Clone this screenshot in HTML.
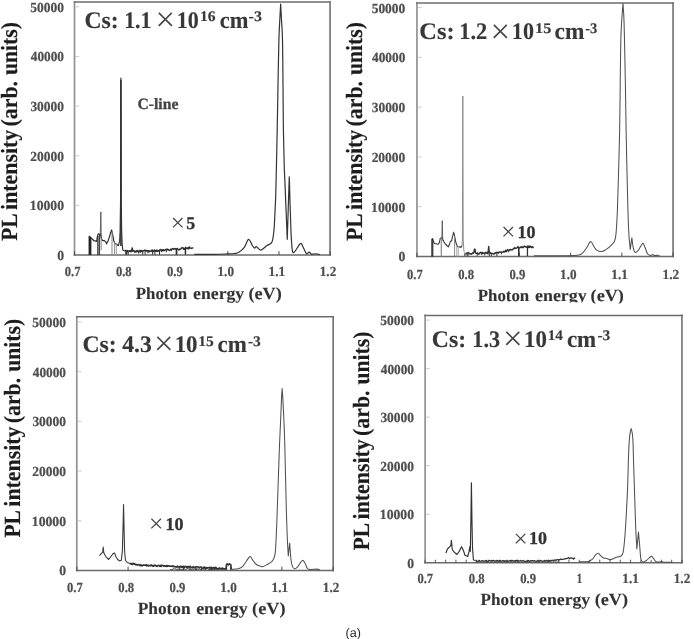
<!DOCTYPE html>
<html><head><meta charset="utf-8"><title>PL spectra</title>
<style>html,body{margin:0;padding:0;background:#fff}svg{display:block}</style></head>
<body><svg width="694" height="639" viewBox="0 0 694 639" text-rendering="geometricPrecision">
<defs><filter id="soft" x="0" y="0" width="694" height="639" filterUnits="userSpaceOnUse"><feGaussianBlur stdDeviation="0.45"/></filter></defs>
<rect width="694" height="639" fill="#fff"/>
<g filter="url(#soft)">
<line x1="74.50" y1="2.10" x2="74.50" y2="254.95" stroke="#929292" stroke-width="1.7" stroke-linecap="square"/>
<line x1="330.05" y1="2.10" x2="330.05" y2="254.95" stroke="#787878" stroke-width="1.7" stroke-linecap="square"/>
<line x1="74.50" y1="2.10" x2="330.05" y2="2.10" stroke="#6c6c6c" stroke-width="1.5" stroke-linecap="square"/>
<line x1="74.50" y1="254.95" x2="330.05" y2="254.95" stroke="#6a6a6a" stroke-width="1.6" stroke-linecap="square"/>
<line x1="75.30" y1="205.32" x2="79.10" y2="205.32" stroke="#c4c4c4" stroke-width="0.9"/>
<line x1="75.30" y1="155.69" x2="79.10" y2="155.69" stroke="#c4c4c4" stroke-width="0.9"/>
<line x1="75.30" y1="106.06" x2="79.10" y2="106.06" stroke="#c4c4c4" stroke-width="0.9"/>
<line x1="75.30" y1="56.43" x2="79.10" y2="56.43" stroke="#c4c4c4" stroke-width="0.9"/>
<line x1="75.30" y1="6.80" x2="79.10" y2="6.80" stroke="#c4c4c4" stroke-width="0.9"/>
<line x1="74.50" y1="254.95" x2="74.50" y2="251.15" stroke="#4a4a4a" stroke-width="1"/>
<line x1="125.61" y1="254.95" x2="125.61" y2="251.15" stroke="#4a4a4a" stroke-width="1"/>
<line x1="176.72" y1="254.95" x2="176.72" y2="251.15" stroke="#4a4a4a" stroke-width="1"/>
<line x1="227.83" y1="254.95" x2="227.83" y2="251.15" stroke="#4a4a4a" stroke-width="1"/>
<line x1="278.94" y1="254.95" x2="278.94" y2="251.15" stroke="#4a4a4a" stroke-width="1"/>
<line x1="330.05" y1="254.95" x2="330.05" y2="251.15" stroke="#4a4a4a" stroke-width="1"/>
<text font-family='"Liberation Serif", serif' font-weight="bold" fill="#4e4e4e" stroke="#4e4e4e" stroke-width="0.22"><tspan x="57.18" y="259.85" font-size="13.9" textLength="6.84" lengthAdjust="spacingAndGlyphs" >0</tspan><tspan x="29.80" y="210.22" font-size="13.9" textLength="34.22" lengthAdjust="spacingAndGlyphs" >10000</tspan><tspan x="30.33" y="160.59" font-size="13.9" textLength="33.68" lengthAdjust="spacingAndGlyphs" >20000</tspan><tspan x="30.39" y="110.96" font-size="13.9" textLength="33.62" lengthAdjust="spacingAndGlyphs" >30000</tspan><tspan x="30.72" y="61.33" font-size="13.9" textLength="33.29" lengthAdjust="spacingAndGlyphs" >40000</tspan><tspan x="30.36" y="11.70" font-size="13.9" textLength="33.65" lengthAdjust="spacingAndGlyphs" >50000</tspan></text>
<text font-family='"Liberation Serif", serif' font-weight="bold" fill="#4e4e4e" stroke="#4e4e4e" stroke-width="0.22"><tspan x="64.77" y="275.90" font-size="13.9" textLength="15.68" lengthAdjust="spacingAndGlyphs" >0.7</tspan><tspan x="115.88" y="275.90" font-size="13.9" textLength="15.80" lengthAdjust="spacingAndGlyphs" >0.8</tspan><tspan x="166.99" y="275.90" font-size="13.9" textLength="15.84" lengthAdjust="spacingAndGlyphs" >0.9</tspan><tspan x="217.53" y="275.90" font-size="13.9" textLength="16.46" lengthAdjust="spacingAndGlyphs" >1.0</tspan><tspan x="268.62" y="275.90" font-size="13.9" textLength="16.66" lengthAdjust="spacingAndGlyphs" >1.1</tspan><tspan x="319.74" y="275.90" font-size="13.9" textLength="16.53" lengthAdjust="spacingAndGlyphs" >1.2</tspan></text>
<text font-family='"Liberation Serif", serif' font-weight="bold" fill="#383838" stroke="#383838" stroke-width="0.15"><tspan x="84.44" y="27.60" font-size="23.8" textLength="34.28" lengthAdjust="spacingAndGlyphs" >Cs:</tspan><tspan x="124.15" y="27.60" font-size="23.8" textLength="27.28" lengthAdjust="spacingAndGlyphs" >1.1</tspan><tspan x="154.08" y="28.03" font-family='"IPAGothic", "Noto Sans CJK JP", sans-serif' font-weight="normal" stroke="none" fill="#454545" font-size="22.61">×</tspan><tspan x="176.84" y="27.60" font-size="23.8" textLength="22.00" lengthAdjust="spacingAndGlyphs" >10</tspan><tspan x="200.05" y="21.30" font-size="14.6" textLength="15.61" lengthAdjust="spacingAndGlyphs" >16</tspan><tspan x="219.73" y="27.60" font-size="23.8" textLength="28.65" lengthAdjust="spacingAndGlyphs" >cm</tspan><tspan x="248.61" y="21.30" font-size="14.6" textLength="13.33" lengthAdjust="spacingAndGlyphs" >-3</tspan></text>
<text x="137.40" y="109.00" font-family='"Liberation Serif", serif' font-size="15.7" font-weight="bold" fill="#444" stroke="#444" stroke-width="0.3" text-anchor="start" >C-line</text>
<text x="172.80" y="229.30" font-family='"Liberation Serif", serif' font-size="18" font-weight="bold" fill="#333" stroke="#333" stroke-width="0.3" text-anchor="start" ><tspan x="169.50" y="229.37" font-family='"IPAGothic", "Noto Sans CJK JP", sans-serif' font-weight="normal" stroke="none" fill="#454545" font-size="16.52">×</tspan><tspan x="186.30" y="229.30">5</tspan></text>
<text transform="translate(16.80 0) rotate(-90)" font-family='"Liberation Serif", serif' font-size="23.2" font-weight="bold" fill="#1c1c1c" stroke="#1c1c1c" stroke-width="0.15"><tspan x="-240.77" y="0" textLength="27.37" lengthAdjust="spacingAndGlyphs">PL</tspan><tspan x="-209.88" y="0" textLength="80.09" lengthAdjust="spacingAndGlyphs">intensity</tspan><tspan x="-126.56" y="0" textLength="45.63" lengthAdjust="spacingAndGlyphs">(arb.</tspan><tspan x="-75.03" y="0" textLength="52.98" lengthAdjust="spacingAndGlyphs">units)</tspan></text>
<text font-family='"Liberation Serif", serif' font-size="17.0" font-weight="bold" fill="#333" stroke="#333" stroke-width="0.1"><tspan x="135.71" y="298.60" textLength="51.54" lengthAdjust="spacingAndGlyphs">Photon</tspan><tspan x="193.10" y="298.60" textLength="51.08" lengthAdjust="spacingAndGlyphs">energy</tspan><tspan x="248.50" y="298.60" textLength="33.19" lengthAdjust="spacingAndGlyphs">(eV)</tspan></text>
<path d="M89.01 236.01 L89.62 236.49 L90.23 237.18 L90.85 238.20 L91.46 238.15 L92.07 238.75 L92.80 239.49 L93.53 240.32 L94.27 240.94 L95.36 240.80 L96.46 241.48 L96.64 240.59 L96.82 239.83 L97.00 239.13 L97.19 237.31 L97.37 236.66 L97.55 236.01 L97.93 234.38 L98.32 233.82 L99.74 234.36 L100.40 234.04 L100.60 235.27 L100.79 235.95 L100.99 235.94 L101.19 237.99 L101.39 238.20 L101.75 239.53 L102.12 239.86 L102.48 240.39 L103.30 240.54 L104.12 240.39 L105.22 241.48 L105.66 241.84 L106.10 242.46 L106.53 243.89 L107.01 243.13 L107.48 241.71 L107.96 241.48 L108.23 240.26 L108.51 239.51 L108.78 238.41 L109.05 238.20 L109.29 237.29 L109.52 236.40 L109.76 236.06 L109.99 234.78 L110.23 234.08 L110.46 233.03 L110.70 232.17 L111.13 231.29 L111.57 229.98 L111.82 230.89 L112.07 231.61 L112.31 233.50 L112.56 233.82 L112.70 235.28 L112.83 235.90 L112.97 236.55 L113.11 236.86 L113.24 237.57 L113.38 238.47 L113.52 239.01 L113.65 240.39 L114.01 241.56 L114.37 241.90 L114.72 243.30 L115.08 243.68 L115.90 243.80 L116.72 244.22 L117.54 245.37 L118.36 245.32 L118.67 244.95 L118.97 243.03 L119.27 242.48 L119.57 242.03 L119.61 241.76 L119.65 240.39 L119.70 240.25 L119.74 238.70 L119.78 237.47 L119.82 237.40 L119.86 236.79 L119.91 235.33 L119.95 234.29 L119.99 233.81 L120.03 233.83 L120.07 232.76 L120.12 231.63 L120.60 200.00 L120.90 78.00 L121.20 200.00 L121.65 231.63 L122.20 244.77 L122.86 250.25 L124.39 250.80" fill="none" stroke="#333" stroke-width="1.2" stroke-linejoin="round" stroke-linecap="butt" />
<line x1="89.34" y1="254.95" x2="89.34" y2="236.23" stroke="#222" stroke-width="1.5"/>
<line x1="90.65" y1="254.95" x2="90.65" y2="237.32" stroke="#222" stroke-width="1.5"/>
<line x1="97.88" y1="254.95" x2="97.88" y2="236.01" stroke="#333" stroke-width="1.3"/>
<line x1="99.41" y1="254.95" x2="99.41" y2="234.36" stroke="#444" stroke-width="1.3"/>
<line x1="101.17" y1="250.25" x2="101.17" y2="238.20" stroke="#888" stroke-width="1.0"/>
<line x1="112.01" y1="254.95" x2="112.01" y2="231.63" stroke="#888" stroke-width="1.0"/>
<line x1="114.53" y1="254.95" x2="114.53" y2="242.58" stroke="#999" stroke-width="1.0"/>
<line x1="116.28" y1="254.95" x2="116.28" y2="244.22" stroke="#999" stroke-width="1.0"/>
<line x1="120.90" y1="80.00" x2="120.90" y2="246.00" stroke="#333" stroke-width="1.6"/>
<path d="M100.29 233.82 L100.84 211.91 L101.28 238.20" fill="none" stroke="#555" stroke-width="0.9" stroke-linejoin="round" stroke-linecap="butt" />
<path d="M124.39 250.54 L125.04 250.79 L125.69 250.50 L126.34 250.42 L126.99 251.89 L127.64 250.65 L128.29 251.41 L128.94 251.18 L129.59 250.67 L130.24 251.75 L130.89 250.54 L131.54 251.56 L132.19 247.90 L132.84 251.10 L133.49 250.68 L134.14 250.79 L134.79 252.18 L135.44 251.84 L136.09 250.83 L136.74 251.98 L137.39 250.62 L138.04 250.98 L138.69 251.89 L139.34 251.45 L139.99 250.35 L140.64 252.12 L141.29 250.55 L141.94 250.62 L142.59 251.64 L143.24 250.73 L143.89 250.65 L144.54 250.18 L145.19 250.20 L145.84 251.16 L146.49 250.46 L147.14 251.16 L147.79 250.68 L148.44 250.82 L149.09 251.81 L149.74 250.83 L150.39 250.99 L151.04 251.55 L151.69 250.15 L152.34 250.07 L152.99 251.55 L153.64 251.34 L154.29 250.17 L154.94 250.02 L155.59 251.09 L156.24 251.46 L156.89 249.94 L157.54 251.42 L158.19 251.25 L158.84 250.65 L159.49 250.25 L160.14 249.58 L160.79 249.41 L161.44 251.22 L162.09 249.74 L162.74 250.63 L163.39 249.69 L164.04 250.78 L164.69 250.29 L165.34 249.64 L165.99 249.36 L166.64 250.40 L167.29 249.05 L167.94 249.33 L168.59 249.94 L169.24 250.48 L169.89 249.95 L170.54 249.24 L171.19 250.46 L171.84 248.98 L172.49 248.55 L173.14 249.01 L173.79 249.30 L174.44 248.48 L175.09 248.65 L175.74 248.98 L176.39 249.33 L177.04 248.39 L177.69 248.79 L178.34 249.79 L178.99 249.91 L179.64 249.20 L180.29 249.21 L180.94 248.93 L181.59 247.98 L182.24 247.70 L182.89 247.60 L183.54 249.32 L184.19 248.83 L184.84 249.28 L185.49 247.33 L186.14 248.49 L186.79 248.11 L187.44 248.53 L188.09 247.64 L188.74 248.92 L189.39 247.00 L190.04 247.86 L190.69 248.17 L191.34 248.42 L191.99 248.01 L192.64 247.86 L193.29 247.96" fill="none" stroke="#2e2e2e" stroke-width="1.45" stroke-linejoin="round" stroke-linecap="butt" />
<line x1="126.65" y1="251.30" x2="126.65" y2="254.65" stroke="#2e2e2e" stroke-width="1.1"/>
<line x1="128.14" y1="251.29" x2="128.14" y2="254.65" stroke="#2e2e2e" stroke-width="1.1"/>
<line x1="138.75" y1="251.18" x2="138.75" y2="253.58" stroke="#2e2e2e" stroke-width="1.0"/>
<line x1="142.78" y1="251.09" x2="142.78" y2="254.65" stroke="#2e2e2e" stroke-width="1.0"/>
<line x1="145.09" y1="251.02" x2="145.09" y2="254.65" stroke="#2e2e2e" stroke-width="1.0"/>
<line x1="147.97" y1="250.93" x2="147.97" y2="253.33" stroke="#2e2e2e" stroke-width="1.0"/>
<line x1="152.58" y1="250.75" x2="152.58" y2="254.65" stroke="#2e2e2e" stroke-width="1.0"/>
<line x1="154.89" y1="250.65" x2="154.89" y2="254.65" stroke="#2e2e2e" stroke-width="1.1"/>
<line x1="159.50" y1="250.41" x2="159.50" y2="254.65" stroke="#2e2e2e" stroke-width="1.0"/>
<line x1="166.41" y1="249.98" x2="166.41" y2="252.38" stroke="#2e2e2e" stroke-width="0.9"/>
<line x1="176.44" y1="249.18" x2="176.44" y2="254.65" stroke="#2e2e2e" stroke-width="1.6"/>
<line x1="185.44" y1="248.29" x2="185.44" y2="254.65" stroke="#2e2e2e" stroke-width="1.5"/>
<path d="M193.90 254.25 C197.25 254.27 208.45 254.40 214.00 254.35 C219.55 254.30 223.83 254.08 227.22 253.94 C230.62 253.81 232.41 253.81 234.35 253.53 C236.28 253.26 237.13 253.40 238.82 252.31 C240.52 251.23 242.89 249.19 244.52 247.02 C246.15 244.85 247.23 239.46 248.59 239.29 C249.94 239.12 251.64 244.55 252.66 246.01 C253.67 247.46 254.08 247.94 254.69 248.04 C255.30 248.14 255.30 246.28 256.32 246.62 C257.34 246.96 259.03 250.24 260.80 250.08 C262.56 249.91 265.03 246.96 266.90 245.60 C268.76 244.24 270.80 244.58 271.99 241.94 C273.17 239.29 273.47 235.89 274.02 229.73 C274.57 223.57 274.99 211.79 275.30 205.00 C275.61 198.21 275.58 201.50 275.90 189.00 C276.22 176.50 276.85 147.33 277.20 130.00 C277.55 112.67 277.72 100.00 278.00 85.00 C278.28 70.00 278.58 51.17 278.90 40.00 C279.22 28.83 279.61 24.00 279.90 18.00 C280.19 12.00 280.52 6.33 280.65 4.00 C280.77 6.33 281.09 12.00 281.40 18.00 C281.71 24.00 282.23 28.83 282.50 40.00 C282.77 51.17 282.85 70.00 283.00 85.00 C283.15 100.00 283.20 116.67 283.40 130.00 C283.60 143.33 283.90 155.17 284.20 165.00 C284.50 174.83 284.69 176.62 285.20 189.00 C285.71 201.38 286.90 230.91 287.25 239.29 C287.58 228.88 288.94 187.24 289.28 176.83 C289.55 185.65 290.40 217.52 290.91 229.73 C291.42 241.94 291.76 246.35 292.33 250.08 C292.91 253.81 293.35 252.79 294.37 252.11 C295.38 251.43 297.32 247.46 298.44 246.01 C299.55 244.55 300.23 243.02 301.08 243.36 C301.93 243.70 302.61 246.31 303.52 248.04 C304.44 249.77 305.62 253.06 306.57 253.74 C307.52 254.42 308.37 252.04 309.22 252.11 C310.07 252.18 310.58 253.87 311.66 254.14 C312.75 254.42 314.37 253.67 315.73 253.74 C317.09 253.81 319.12 254.42 319.80 254.55" fill="none" stroke="#333" stroke-width="1.2" stroke-linejoin="round" stroke-linecap="butt" />
<line x1="416.95" y1="3.00" x2="416.95" y2="256.45" stroke="#929292" stroke-width="1.7" stroke-linecap="square"/>
<line x1="673.05" y1="3.00" x2="673.05" y2="256.45" stroke="#787878" stroke-width="1.7" stroke-linecap="square"/>
<line x1="416.95" y1="3.00" x2="673.05" y2="3.00" stroke="#6c6c6c" stroke-width="1.5" stroke-linecap="square"/>
<line x1="416.95" y1="256.45" x2="673.05" y2="256.45" stroke="#6a6a6a" stroke-width="1.6" stroke-linecap="square"/>
<line x1="417.75" y1="206.68" x2="421.55" y2="206.68" stroke="#c4c4c4" stroke-width="0.9"/>
<line x1="417.75" y1="156.91" x2="421.55" y2="156.91" stroke="#c4c4c4" stroke-width="0.9"/>
<line x1="417.75" y1="107.14" x2="421.55" y2="107.14" stroke="#c4c4c4" stroke-width="0.9"/>
<line x1="417.75" y1="57.37" x2="421.55" y2="57.37" stroke="#c4c4c4" stroke-width="0.9"/>
<line x1="417.75" y1="7.60" x2="421.55" y2="7.60" stroke="#c4c4c4" stroke-width="0.9"/>
<line x1="416.95" y1="256.45" x2="416.95" y2="252.65" stroke="#4a4a4a" stroke-width="1"/>
<line x1="468.17" y1="256.45" x2="468.17" y2="252.65" stroke="#4a4a4a" stroke-width="1"/>
<line x1="519.39" y1="256.45" x2="519.39" y2="252.65" stroke="#4a4a4a" stroke-width="1"/>
<line x1="570.61" y1="256.45" x2="570.61" y2="252.65" stroke="#4a4a4a" stroke-width="1"/>
<line x1="621.83" y1="256.45" x2="621.83" y2="252.65" stroke="#4a4a4a" stroke-width="1"/>
<line x1="673.05" y1="256.45" x2="673.05" y2="252.65" stroke="#4a4a4a" stroke-width="1"/>
<text font-family='"Liberation Serif", serif' font-weight="bold" fill="#4e4e4e" stroke="#4e4e4e" stroke-width="0.22"><tspan x="398.48" y="261.35" font-size="13.9" textLength="6.84" lengthAdjust="spacingAndGlyphs" >0</tspan><tspan x="371.10" y="211.58" font-size="13.9" textLength="34.22" lengthAdjust="spacingAndGlyphs" >10000</tspan><tspan x="371.63" y="161.81" font-size="13.9" textLength="33.68" lengthAdjust="spacingAndGlyphs" >20000</tspan><tspan x="371.69" y="112.04" font-size="13.9" textLength="33.62" lengthAdjust="spacingAndGlyphs" >30000</tspan><tspan x="372.02" y="62.27" font-size="13.9" textLength="33.29" lengthAdjust="spacingAndGlyphs" >40000</tspan><tspan x="371.66" y="12.50" font-size="13.9" textLength="33.65" lengthAdjust="spacingAndGlyphs" >50000</tspan></text>
<text font-family='"Liberation Serif", serif' font-weight="bold" fill="#4e4e4e" stroke="#4e4e4e" stroke-width="0.22"><tspan x="407.02" y="278.80" font-size="13.9" textLength="15.68" lengthAdjust="spacingAndGlyphs" >0.7</tspan><tspan x="458.24" y="278.80" font-size="13.9" textLength="15.80" lengthAdjust="spacingAndGlyphs" >0.8</tspan><tspan x="509.46" y="278.80" font-size="13.9" textLength="15.84" lengthAdjust="spacingAndGlyphs" >0.9</tspan><tspan x="560.11" y="278.80" font-size="13.9" textLength="16.46" lengthAdjust="spacingAndGlyphs" >1.0</tspan><tspan x="611.31" y="278.80" font-size="13.9" textLength="16.66" lengthAdjust="spacingAndGlyphs" >1.1</tspan><tspan x="662.54" y="278.80" font-size="13.9" textLength="16.53" lengthAdjust="spacingAndGlyphs" >1.2</tspan></text>
<text font-family='"Liberation Serif", serif' font-weight="bold" fill="#383838" stroke="#383838" stroke-width="0.15"><tspan x="419.31" y="39.10" font-size="23.8" textLength="35.27" lengthAdjust="spacingAndGlyphs" >Cs:</tspan><tspan x="459.31" y="39.10" font-size="23.8" textLength="27.95" lengthAdjust="spacingAndGlyphs" >1.2</tspan><tspan x="489.08" y="39.53" font-family='"IPAGothic", "Noto Sans CJK JP", sans-serif' font-weight="normal" stroke="none" fill="#454545" font-size="22.61">×</tspan><tspan x="511.83" y="39.10" font-size="23.8" textLength="22.11" lengthAdjust="spacingAndGlyphs" >10</tspan><tspan x="535.09" y="32.70" font-size="14.6" textLength="16.30" lengthAdjust="spacingAndGlyphs" >15</tspan><tspan x="554.60" y="39.10" font-size="23.8" textLength="29.80" lengthAdjust="spacingAndGlyphs" >cm</tspan><tspan x="585.17" y="32.70" font-size="14.6" textLength="12.13" lengthAdjust="spacingAndGlyphs" >-3</tspan></text>
<text x="503.20" y="237.70" font-family='"Liberation Serif", serif' font-size="18" font-weight="bold" fill="#333" stroke="#333" stroke-width="0.3" text-anchor="start" ><tspan x="499.90" y="238.37" font-family='"IPAGothic", "Noto Sans CJK JP", sans-serif' font-weight="normal" stroke="none" fill="#454545" font-size="16.52">×</tspan><tspan x="517.60" y="237.70">10</tspan></text>
<text transform="translate(361.70 0) rotate(-90)" font-family='"Liberation Serif", serif' font-size="23.2" font-weight="bold" fill="#1c1c1c" stroke="#1c1c1c" stroke-width="0.15"><tspan x="-240.77" y="0" textLength="27.37" lengthAdjust="spacingAndGlyphs">PL</tspan><tspan x="-209.88" y="0" textLength="80.09" lengthAdjust="spacingAndGlyphs">intensity</tspan><tspan x="-126.56" y="0" textLength="45.63" lengthAdjust="spacingAndGlyphs">(arb.</tspan><tspan x="-75.03" y="0" textLength="52.98" lengthAdjust="spacingAndGlyphs">units)</tspan></text>
<text font-family='"Liberation Serif", serif' font-size="17.0" font-weight="bold" fill="#333" stroke="#333" stroke-width="0.1"><tspan x="477.71" y="300.60" textLength="51.54" lengthAdjust="spacingAndGlyphs">Photon</tspan><tspan x="535.09" y="300.60" textLength="51.59" lengthAdjust="spacingAndGlyphs">energy</tspan><tspan x="590.60" y="300.60" textLength="33.30" lengthAdjust="spacingAndGlyphs">(eV)</tspan></text>
<rect x="530" y="302.4" width="59" height="4.5" fill="#fff"/><rect x="589" y="303.5" width="40" height="3.5" fill="#fff"/>
<path d="M432.43 238.20 L432.71 239.73 L432.98 239.59 L433.25 240.98 L433.53 241.48 L434.07 242.90 L434.62 243.58 L435.17 243.68 L436.27 243.81 L437.36 244.22 L438.18 244.17 L439.00 243.13 L439.22 242.92 L439.44 241.61 L439.66 240.88 L439.88 239.64 L440.10 239.16 L440.32 238.20 L441.74 237.65 L442.40 238.75 L442.67 239.75 L442.95 240.39 L443.46 240.41 L443.97 242.09 L444.48 242.58 L445.30 244.24 L446.12 244.22 L446.67 245.55 L447.22 245.98 L447.77 246.09 L448.31 246.96 L448.64 246.48 L448.97 245.35 L449.30 244.23 L449.63 244.03 L449.96 242.58 L450.78 241.05 L451.60 240.94 L451.78 240.54 L451.97 238.49 L452.15 238.64 L452.33 237.62 L452.51 236.37 L452.70 236.01 L452.92 235.39 L453.13 234.09 L453.35 233.33 L453.57 232.17 L453.82 233.85 L454.07 233.68 L454.31 234.22 L454.56 236.01 L454.74 236.58 L454.92 238.14 L455.11 238.24 L455.29 239.10 L455.47 241.26 L455.65 241.48 L455.94 242.63 L456.22 243.14 L456.51 244.78 L456.79 244.70 L457.08 245.87 L457.90 246.70 L458.72 246.96 L459.82 246.72 L460.91 247.51 L461.28 246.66 L461.64 246.57 L462.01 245.32" fill="none" stroke="#3a3a3a" stroke-width="1.1" stroke-linejoin="round" stroke-linecap="butt" />
<path d="M441.85 237.65 L442.29 220.67 L442.73 239.84" fill="none" stroke="#555" stroke-width="0.9" stroke-linejoin="round" stroke-linecap="butt" />
<path d="M462.01 245.32 L462.40 240.00 L462.80 96.00 L463.20 240.00 L463.98 251.34 L465.29 252.99" fill="none" stroke="#8c8c8c" stroke-width="1.0" stroke-linejoin="round" stroke-linecap="butt" />
<line x1="431.99" y1="256.45" x2="431.99" y2="238.75" stroke="#2a2a2a" stroke-width="1.4"/>
<line x1="432.76" y1="256.45" x2="432.76" y2="239.29" stroke="#333" stroke-width="1.2"/>
<line x1="441.30" y1="256.45" x2="441.30" y2="238.20" stroke="#888" stroke-width="1.2"/>
<line x1="454.56" y1="256.45" x2="454.56" y2="236.01" stroke="#8a8a8a" stroke-width="1.0"/>
<line x1="456.75" y1="256.45" x2="456.75" y2="245.32" stroke="#aaa" stroke-width="1.0"/>
<line x1="458.28" y1="256.45" x2="458.28" y2="246.96" stroke="#aaa" stroke-width="1.0"/>
<path d="M465.29 254.09 L465.94 254.02 L466.59 253.03 L467.24 253.43 L467.89 252.89 L468.54 252.53 L469.19 253.25 L469.84 253.93 L470.49 253.96 L471.14 253.68 L471.79 254.16 L472.44 252.81 L473.09 252.60 L473.74 253.16 L474.39 249.28 L475.04 249.28 L475.69 253.09 L476.34 253.51 L476.99 253.25 L477.64 252.89 L478.29 253.94 L478.94 254.22 L479.59 253.16 L480.24 252.41 L480.89 252.32 L481.54 254.01 L482.19 252.34 L482.84 253.68 L483.49 253.40 L484.14 252.88 L484.79 253.84 L485.44 252.30 L486.09 252.53 L486.74 253.17 L487.39 252.31 L488.04 253.92 L488.69 246.34 L489.34 252.54 L489.99 252.35 L490.64 253.52 L491.29 253.15 L491.94 253.52 L492.59 253.57 L493.24 253.87 L493.89 254.18 L494.54 253.63 L495.19 252.66 L495.84 253.21 L496.49 252.59 L497.14 252.14 L497.79 252.92 L498.44 253.26 L499.09 252.04 L499.74 252.07 L500.39 252.05 L501.04 252.59 L501.69 252.06 L502.34 252.08 L502.99 252.19 L503.64 251.28 L504.29 251.90 L504.94 251.94 L505.59 250.12 L506.24 251.62 L506.89 251.01 L507.54 249.64 L508.19 250.09 L508.84 250.24 L509.49 250.62 L510.14 249.35 L510.79 249.54 L511.44 249.96 L512.09 249.59 L512.74 249.69 L513.39 248.52 L514.04 248.69 L514.69 247.59 L515.34 248.42 L515.99 248.41 L516.64 247.84 L517.29 247.79 L517.94 246.57 L518.59 247.73 L519.24 247.82 L519.89 247.82 L520.54 246.94 L521.19 247.44 L521.84 246.50 L522.49 247.68 L523.14 247.57 L523.79 246.56 L524.44 246.03 L525.09 246.74 L525.74 246.96 L526.39 247.40 L527.04 246.84 L527.69 245.92 L528.34 247.48 L528.99 245.99 L529.64 247.46 L530.29 246.21 L530.94 246.53 L531.59 247.63 L532.24 246.71 L532.89 247.09 L533.54 248.19" fill="none" stroke="#333" stroke-width="1.4" stroke-linejoin="round" stroke-linecap="butt" />
<line x1="464.84" y1="253.26" x2="464.84" y2="256.15" stroke="#333" stroke-width="1.0"/>
<line x1="467.15" y1="253.26" x2="467.15" y2="256.15" stroke="#333" stroke-width="1.0"/>
<line x1="477.29" y1="253.26" x2="477.29" y2="256.15" stroke="#333" stroke-width="0.9"/>
<line x1="484.78" y1="253.26" x2="484.78" y2="255.46" stroke="#333" stroke-width="0.9"/>
<line x1="489.39" y1="253.26" x2="489.39" y2="256.15" stroke="#333" stroke-width="1.0"/>
<line x1="491.35" y1="253.26" x2="491.35" y2="256.15" stroke="#333" stroke-width="0.9"/>
<line x1="496.89" y1="253.17" x2="496.89" y2="256.15" stroke="#333" stroke-width="1.0"/>
<line x1="501.50" y1="252.08" x2="501.50" y2="254.28" stroke="#333" stroke-width="0.9"/>
<line x1="508.41" y1="250.12" x2="508.41" y2="252.32" stroke="#333" stroke-width="0.9"/>
<line x1="518.79" y1="246.86" x2="518.79" y2="256.15" stroke="#333" stroke-width="1.6"/>
<line x1="527.44" y1="246.86" x2="527.44" y2="256.15" stroke="#333" stroke-width="1.3"/>
<path d="M534.01 255.85 C537.84 255.84 549.78 255.89 557.00 255.77 C564.22 255.66 573.11 255.60 577.35 255.16 C581.58 254.72 580.91 254.31 582.43 253.13 C583.96 251.94 585.15 249.97 586.50 248.04 C587.86 246.11 589.38 241.87 590.57 241.53 C591.76 241.19 592.61 244.58 593.62 246.01 C594.64 247.43 595.32 249.16 596.67 250.08 C598.03 250.99 600.23 251.57 601.76 251.50 C603.29 251.43 604.30 250.65 605.83 249.67 C607.36 248.68 609.46 247.06 610.92 245.60 C612.37 244.14 613.73 242.89 614.58 240.92 C615.43 238.95 615.53 239.05 616.00 233.80 C616.48 228.54 616.99 220.23 617.43 209.38 C617.87 198.53 618.28 181.92 618.65 168.69 C619.02 155.46 619.39 143.95 619.65 130.00 C619.91 116.05 620.01 100.00 620.20 85.00 C620.39 70.00 620.52 51.17 620.80 40.00 C621.08 28.83 621.53 24.10 621.90 18.00 C622.27 11.90 622.82 5.83 623.00 3.40 C623.15 5.83 623.65 11.90 623.90 18.00 C624.15 24.10 624.25 28.83 624.50 40.00 C624.75 51.17 625.13 70.00 625.40 85.00 C625.67 100.00 625.77 112.66 626.10 130.00 C626.43 147.34 626.98 172.42 627.40 189.04 C627.82 205.66 628.14 219.66 628.62 229.73 C629.09 239.80 629.97 246.18 630.25 249.46 C630.52 247.53 631.60 239.80 631.87 237.87 C632.11 239.56 632.72 245.60 633.30 248.04 C633.87 250.48 634.48 252.18 635.33 252.52 C636.18 252.86 637.37 251.33 638.38 250.08 C639.40 248.82 640.66 246.11 641.44 244.99 C642.22 243.87 642.49 243.02 643.06 243.36 C643.64 243.70 644.15 245.29 644.89 247.02 C645.64 248.75 646.59 252.31 647.54 253.74 C648.49 255.16 649.74 255.43 650.59 255.57 C651.44 255.70 651.95 254.55 652.63 254.55 C653.30 254.55 653.81 255.47 654.66 255.57 C655.51 255.67 656.86 255.13 657.71 255.16 C658.56 255.20 659.41 255.67 659.75 255.77" fill="none" stroke="#505050" stroke-width="1.05" stroke-linejoin="round" stroke-linecap="butt" />
<line x1="76.80" y1="316.75" x2="76.80" y2="570.50" stroke="#929292" stroke-width="1.7" stroke-linecap="square"/>
<line x1="333.15" y1="316.75" x2="333.15" y2="570.50" stroke="#787878" stroke-width="1.7" stroke-linecap="square"/>
<line x1="76.80" y1="316.75" x2="333.15" y2="316.75" stroke="#6c6c6c" stroke-width="1.5" stroke-linecap="square"/>
<line x1="76.80" y1="570.50" x2="333.15" y2="570.50" stroke="#6a6a6a" stroke-width="1.6" stroke-linecap="square"/>
<line x1="77.60" y1="520.80" x2="81.40" y2="520.80" stroke="#c4c4c4" stroke-width="0.9"/>
<line x1="77.60" y1="471.10" x2="81.40" y2="471.10" stroke="#c4c4c4" stroke-width="0.9"/>
<line x1="77.60" y1="421.40" x2="81.40" y2="421.40" stroke="#c4c4c4" stroke-width="0.9"/>
<line x1="77.60" y1="371.70" x2="81.40" y2="371.70" stroke="#c4c4c4" stroke-width="0.9"/>
<line x1="77.60" y1="322.00" x2="81.40" y2="322.00" stroke="#c4c4c4" stroke-width="0.9"/>
<line x1="76.80" y1="570.50" x2="76.80" y2="566.70" stroke="#4a4a4a" stroke-width="1"/>
<line x1="128.07" y1="570.50" x2="128.07" y2="566.70" stroke="#4a4a4a" stroke-width="1"/>
<line x1="179.34" y1="570.50" x2="179.34" y2="566.70" stroke="#4a4a4a" stroke-width="1"/>
<line x1="230.61" y1="570.50" x2="230.61" y2="566.70" stroke="#4a4a4a" stroke-width="1"/>
<line x1="281.88" y1="570.50" x2="281.88" y2="566.70" stroke="#4a4a4a" stroke-width="1"/>
<line x1="333.15" y1="570.50" x2="333.15" y2="566.70" stroke="#4a4a4a" stroke-width="1"/>
<text font-family='"Liberation Serif", serif' font-weight="bold" fill="#4e4e4e" stroke="#4e4e4e" stroke-width="0.22"><tspan x="59.18" y="575.40" font-size="13.9" textLength="6.84" lengthAdjust="spacingAndGlyphs" >0</tspan><tspan x="31.80" y="525.70" font-size="13.9" textLength="34.22" lengthAdjust="spacingAndGlyphs" >10000</tspan><tspan x="32.33" y="476.00" font-size="13.9" textLength="33.68" lengthAdjust="spacingAndGlyphs" >20000</tspan><tspan x="32.39" y="426.30" font-size="13.9" textLength="33.62" lengthAdjust="spacingAndGlyphs" >30000</tspan><tspan x="32.72" y="376.60" font-size="13.9" textLength="33.29" lengthAdjust="spacingAndGlyphs" >40000</tspan><tspan x="32.36" y="326.90" font-size="13.9" textLength="33.65" lengthAdjust="spacingAndGlyphs" >50000</tspan></text>
<text font-family='"Liberation Serif", serif' font-weight="bold" fill="#4e4e4e" stroke="#4e4e4e" stroke-width="0.22"><tspan x="67.07" y="592.40" font-size="13.9" textLength="15.68" lengthAdjust="spacingAndGlyphs" >0.7</tspan><tspan x="118.34" y="592.40" font-size="13.9" textLength="15.80" lengthAdjust="spacingAndGlyphs" >0.8</tspan><tspan x="169.61" y="592.40" font-size="13.9" textLength="15.84" lengthAdjust="spacingAndGlyphs" >0.9</tspan><tspan x="220.31" y="592.40" font-size="13.9" textLength="16.46" lengthAdjust="spacingAndGlyphs" >1.0</tspan><tspan x="271.56" y="592.40" font-size="13.9" textLength="16.66" lengthAdjust="spacingAndGlyphs" >1.1</tspan><tspan x="322.84" y="592.40" font-size="13.9" textLength="16.53" lengthAdjust="spacingAndGlyphs" >1.2</tspan></text>
<text font-family='"Liberation Serif", serif' font-weight="bold" fill="#383838" stroke="#383838" stroke-width="0.15"><tspan x="82.44" y="351.70" font-size="23.8" textLength="34.28" lengthAdjust="spacingAndGlyphs" >Cs:</tspan><tspan x="122.18" y="351.70" font-size="23.8" textLength="29.53" lengthAdjust="spacingAndGlyphs" >4.3</tspan><tspan x="152.38" y="352.13" font-family='"IPAGothic", "Noto Sans CJK JP", sans-serif' font-weight="normal" stroke="none" fill="#454545" font-size="22.61">×</tspan><tspan x="174.67" y="351.70" font-size="23.8" textLength="22.91" lengthAdjust="spacingAndGlyphs" >10</tspan><tspan x="198.26" y="345.50" font-size="14.6" textLength="15.51" lengthAdjust="spacingAndGlyphs" >15</tspan><tspan x="217.52" y="351.70" font-size="23.8" textLength="29.28" lengthAdjust="spacingAndGlyphs" >cm</tspan><tspan x="247.93" y="345.50" font-size="14.6" textLength="12.90" lengthAdjust="spacingAndGlyphs" >-3</tspan></text>
<text x="151.20" y="529.50" font-family='"Liberation Serif", serif' font-size="18" font-weight="bold" fill="#333" stroke="#333" stroke-width="0.3" text-anchor="start" ><tspan x="147.83" y="529.61" font-family='"IPAGothic", "Noto Sans CJK JP", sans-serif' font-weight="normal" stroke="none" fill="#454545" font-size="16.87">×</tspan><tspan x="165.40" y="529.50">10</tspan></text>
<text transform="translate(19.70 0) rotate(-90)" font-family='"Liberation Serif", serif' font-size="23.2" font-weight="bold" fill="#1c1c1c" stroke="#1c1c1c" stroke-width="0.15"><tspan x="-537.57" y="0" textLength="27.37" lengthAdjust="spacingAndGlyphs">PL</tspan><tspan x="-506.68" y="0" textLength="80.09" lengthAdjust="spacingAndGlyphs">intensity</tspan><tspan x="-423.36" y="0" textLength="45.63" lengthAdjust="spacingAndGlyphs">(arb.</tspan><tspan x="-371.83" y="0" textLength="52.98" lengthAdjust="spacingAndGlyphs">units)</tspan></text>
<text font-family='"Liberation Serif", serif' font-size="17.0" font-weight="bold" fill="#333" stroke="#333" stroke-width="0.1"><tspan x="137.70" y="614.20" textLength="52.96" lengthAdjust="spacingAndGlyphs">Photon</tspan><tspan x="196.19" y="614.20" textLength="51.48" lengthAdjust="spacingAndGlyphs">energy</tspan><tspan x="252.10" y="614.20" textLength="33.40" lengthAdjust="spacingAndGlyphs">(eV)</tspan></text>
<path d="M99.48 555.78 L101.26 553.55 L102.75 552.07 L103.19 547.16 L103.79 552.81 L105.72 556.52 L108.69 559.49 L110.92 556.52 L113.15 553.55 L114.63 553.11 L115.82 556.52 L117.60 559.49 L119.83 560.98 L121.32 560.24 L122.36 551.32 L123.10 524.58 L123.55 504.52 L123.99 524.58 L124.59 551.32 L125.48 560.24 L127.26 562.47 L129.49 563.36" fill="none" stroke="#3a3a3a" stroke-width="1.1" stroke-linejoin="round" stroke-linecap="butt" />
<path d="M129.49 563.24 L130.09 563.69 L130.69 563.64 L131.29 564.17 L131.89 563.62 L132.49 564.43 L133.09 563.25 L133.69 563.57 L134.29 564.13 L134.89 563.88 L135.49 564.64 L136.09 564.60 L136.69 564.52 L137.29 565.09 L137.89 564.75 L138.49 564.47 L139.09 564.66 L139.69 565.44 L140.29 565.61 L140.89 564.65 L141.49 565.65 L142.09 565.85 L142.69 565.20 L143.29 565.30 L143.89 564.77 L144.49 565.29 L145.09 565.27 L145.69 565.44 L146.29 564.60 L146.89 566.04 L147.49 565.38 L148.09 565.23 L148.69 565.86 L149.29 565.52 L149.89 565.44 L150.49 565.76 L151.09 564.85 L151.69 565.58 L152.29 565.42 L152.89 566.26 L153.49 566.23 L154.09 565.27 L154.69 565.60 L155.29 565.11 L155.89 565.59 L156.49 566.19 L157.09 566.34 L157.69 565.73 L158.29 565.51 L158.89 565.35 L159.49 566.01 L160.09 566.50 L160.69 565.33 L161.29 566.33 L161.89 565.21 L162.49 565.50 L163.09 565.57 L163.69 566.28 L164.29 565.76 L164.89 565.83 L165.49 566.25 L166.09 565.50 L166.69 566.47 L167.29 565.58 L167.89 566.18 L168.49 565.82 L169.09 565.76 L169.69 566.29 L170.29 566.17 L170.89 566.10 L171.49 566.18 L172.09 566.38 L172.69 565.85 L173.29 565.94 L173.89 566.60 L174.49 566.64 L175.09 566.50 L175.69 567.01 L176.29 566.67 L176.89 567.06 L177.49 566.15 L178.09 566.94 L178.69 567.06 L179.29 567.23 L179.89 566.37 L180.49 566.39 L181.09 567.33 L181.69 566.30 L182.29 567.49 L182.89 567.35 L183.49 566.24 L184.09 566.42 L184.69 567.18 L185.29 566.50 L185.89 566.28 L186.49 567.41 L187.09 566.82 L187.69 567.39 L188.29 566.42 L188.89 566.86 L189.49 567.31 L190.09 566.33 L190.69 566.63 L191.29 567.37 L191.89 567.74 L192.49 567.85 L193.09 566.59 L193.69 567.20 L194.29 567.61 L194.89 567.25 L195.49 567.55 L196.09 566.82 L196.69 566.67 L197.29 566.75 L197.89 566.67 L198.49 567.46 L199.09 567.43 L199.69 567.54 L200.29 566.93 L200.89 567.01 L201.49 567.06 L202.09 568.04 L202.69 568.29 L203.29 568.22 L203.89 566.99 L204.49 566.97 L205.09 568.33 L205.69 567.62 L206.29 568.09 L206.89 567.46 L207.49 567.69 L208.09 567.79 L208.69 567.69 L209.29 567.97 L209.89 567.11 L210.49 568.16 L211.09 568.40 L211.69 567.43 L212.29 567.87 L212.89 568.32 L213.49 567.84 L214.09 567.55 L214.69 567.53 L215.29 568.07 L215.89 567.35 L216.49 568.69 L217.09 568.58 L217.69 568.46 L218.29 568.71 L218.89 568.39 L219.49 568.08 L220.09 568.39 L220.69 568.27 L221.29 569.02 L221.89 568.77 L222.49 567.98 L223.09 568.98 L223.69 568.75 L224.29 568.83 L224.89 568.91 L225.49 568.32 L226.09 569.08 L226.50 564.40 L227.40 563.80 L228.40 565.00 L229.60 563.90 L230.80 564.60 L231.40 569.60" fill="none" stroke="#333" stroke-width="1.6" stroke-linejoin="round" stroke-linecap="butt" />
<path d="M170.00 569.73 L170.55 569.47 L171.10 569.57 L171.65 569.57 L172.20 569.07 L172.75 569.51 L173.30 568.60 L173.85 568.98 L174.40 569.16 L174.95 568.51 L175.50 569.00 L176.05 569.39 L176.60 569.37 L177.15 568.82 L177.70 569.82 L178.25 569.43 L178.80 568.97 L179.35 569.42 L179.90 569.30 L180.45 569.25 L181.00 569.05 L181.55 569.90 L182.10 569.40 L182.65 569.48 L183.20 569.57 L183.75 569.87 L184.30 568.53 L184.85 569.36 L185.40 569.53 L185.95 568.86 L186.50 569.06 L187.05 568.57 L187.60 568.77 L188.15 569.03 L188.70 568.64 L189.25 568.85 L189.80 569.77 L190.35 569.27 L190.90 569.21 L191.45 569.85 L192.00 569.30 L192.55 569.89 L193.10 569.39 L193.65 569.63 L194.20 568.61 L194.75 569.34 L195.30 569.56 L195.85 568.56 L196.40 569.80 L196.95 568.72 L197.50 569.16 L198.05 568.74 L198.60 569.19 L199.15 569.36 L199.70 568.58 L200.25 569.82 L200.80 569.09 L201.35 569.24 L201.90 569.34 L202.45 569.01 L203.00 568.90 L203.55 569.42 L204.10 569.28 L204.65 568.90 L205.20 569.50 L205.75 568.91 L206.30 568.52 L206.85 568.84 L207.40 568.56 L207.95 568.72 L208.50 569.56 L209.05 569.05 L209.60 569.76 L210.15 569.55 L210.70 568.57 L211.25 569.88 L211.80 569.82 L212.35 568.60 L212.90 569.77 L213.45 569.10 L214.00 569.17 L214.55 569.86 L215.10 568.84 L215.65 569.23 L216.20 569.81 L216.75 569.51 L217.30 569.16 L217.85 569.87 L218.40 569.64 L218.95 569.35 L219.50 568.66 L220.05 569.37 L220.60 569.14 L221.15 568.79 L221.70 568.57 L222.25 569.24 L222.80 568.67 L223.35 569.12 L223.90 569.44 L224.45 569.14 L225.00 568.87 L225.55 569.32 L226.10 569.09" fill="none" stroke="#333" stroke-width="1.0" stroke-linejoin="round" stroke-linecap="butt" />
<line x1="183.50" y1="566.79" x2="183.50" y2="570.10" stroke="#333" stroke-width="0.9"/>
<line x1="190.00" y1="567.05" x2="190.00" y2="570.10" stroke="#333" stroke-width="0.9"/>
<line x1="196.00" y1="567.29" x2="196.00" y2="570.10" stroke="#333" stroke-width="0.9"/>
<line x1="201.50" y1="567.51" x2="201.50" y2="570.10" stroke="#333" stroke-width="0.9"/>
<line x1="206.00" y1="567.68" x2="206.00" y2="570.10" stroke="#333" stroke-width="0.9"/>
<line x1="211.00" y1="567.88" x2="211.00" y2="570.10" stroke="#333" stroke-width="0.9"/>
<line x1="214.50" y1="568.02" x2="214.50" y2="570.10" stroke="#333" stroke-width="0.9"/>
<line x1="219.00" y1="568.20" x2="219.00" y2="570.10" stroke="#333" stroke-width="0.9"/>
<path d="M226.60 569.60 L226.60 564.40" fill="none" stroke="#333" stroke-width="1.0" stroke-linejoin="round" stroke-linecap="butt" />
<path d="M231.60 569.40 C232.74 569.28 236.60 569.16 238.42 568.70 C240.23 568.25 241.13 567.96 242.48 566.67 C243.84 565.38 245.30 562.67 246.55 560.97 C247.81 559.28 248.99 556.66 250.01 556.50 C251.03 556.33 251.71 558.70 252.66 559.95 C253.61 561.21 254.52 563.01 255.71 564.02 C256.90 565.04 258.59 565.62 259.78 566.06 C260.97 566.50 261.64 566.91 262.83 566.67 C264.02 566.43 265.37 565.52 266.90 564.63 C268.43 563.75 270.80 562.50 271.99 561.38 C273.17 560.26 273.44 559.68 274.02 557.92 C274.60 556.16 275.00 556.05 275.44 550.80 C275.89 545.54 276.22 537.23 276.67 526.38 C277.11 515.53 277.61 499.26 278.09 485.69 C278.56 472.13 279.07 456.33 279.51 445.00 C279.95 433.67 280.40 425.67 280.73 417.73 C281.07 409.79 281.31 402.23 281.55 397.38 C281.79 392.53 282.06 390.09 282.16 388.63 C282.26 390.09 282.50 392.53 282.77 397.38 C283.04 402.23 283.45 409.79 283.79 417.73 C284.13 425.67 284.40 430.28 284.80 445.00 C285.21 459.72 285.82 490.78 286.23 506.04 C286.63 521.30 286.91 528.25 287.25 536.56 C287.58 544.86 288.09 552.66 288.26 555.89 C288.50 553.75 289.45 545.20 289.69 543.07 C289.89 545.71 290.47 555.11 290.91 558.94 C291.35 562.77 291.76 564.43 292.33 566.06 C292.91 567.69 293.52 568.53 294.37 568.70 C295.21 568.87 296.40 568.09 297.42 567.08 C298.44 566.06 299.55 563.72 300.47 562.60 C301.39 561.48 302.17 560.29 302.91 560.36 C303.66 560.43 304.23 561.72 304.95 563.01 C305.66 564.29 306.40 567.01 307.18 568.09 C307.96 569.18 308.03 569.35 309.63 569.52 C311.22 569.69 315.05 569.08 316.75 569.11 C318.44 569.14 319.29 569.62 319.80 569.72" fill="none" stroke="#505050" stroke-width="1.05" stroke-linejoin="round" stroke-linecap="butt" />
<line x1="425.10" y1="315.40" x2="425.10" y2="562.70" stroke="#929292" stroke-width="1.7" stroke-linecap="square"/>
<line x1="681.95" y1="315.40" x2="681.95" y2="562.70" stroke="#787878" stroke-width="1.7" stroke-linecap="square"/>
<line x1="425.10" y1="315.40" x2="681.95" y2="315.40" stroke="#6c6c6c" stroke-width="1.5" stroke-linecap="square"/>
<line x1="425.10" y1="562.70" x2="681.95" y2="562.70" stroke="#6a6a6a" stroke-width="1.6" stroke-linecap="square"/>
<line x1="425.90" y1="514.18" x2="429.70" y2="514.18" stroke="#c4c4c4" stroke-width="0.9"/>
<line x1="425.90" y1="465.66" x2="429.70" y2="465.66" stroke="#c4c4c4" stroke-width="0.9"/>
<line x1="425.90" y1="417.14" x2="429.70" y2="417.14" stroke="#c4c4c4" stroke-width="0.9"/>
<line x1="425.90" y1="368.62" x2="429.70" y2="368.62" stroke="#c4c4c4" stroke-width="0.9"/>
<line x1="425.90" y1="320.10" x2="429.70" y2="320.10" stroke="#c4c4c4" stroke-width="0.9"/>
<line x1="425.10" y1="562.70" x2="425.10" y2="559.70" stroke="#4a4a4a" stroke-width="0.9"/>
<line x1="435.37" y1="562.70" x2="435.37" y2="559.70" stroke="#4a4a4a" stroke-width="0.9"/>
<line x1="445.65" y1="562.70" x2="445.65" y2="559.70" stroke="#4a4a4a" stroke-width="0.9"/>
<line x1="455.92" y1="562.70" x2="455.92" y2="559.70" stroke="#4a4a4a" stroke-width="0.9"/>
<line x1="466.20" y1="562.70" x2="466.20" y2="559.70" stroke="#4a4a4a" stroke-width="0.9"/>
<line x1="476.47" y1="562.70" x2="476.47" y2="559.70" stroke="#4a4a4a" stroke-width="0.9"/>
<line x1="486.74" y1="562.70" x2="486.74" y2="559.70" stroke="#4a4a4a" stroke-width="0.9"/>
<line x1="497.02" y1="562.70" x2="497.02" y2="559.70" stroke="#4a4a4a" stroke-width="0.9"/>
<line x1="507.29" y1="562.70" x2="507.29" y2="559.70" stroke="#4a4a4a" stroke-width="0.9"/>
<line x1="517.57" y1="562.70" x2="517.57" y2="559.70" stroke="#4a4a4a" stroke-width="0.9"/>
<line x1="527.84" y1="562.70" x2="527.84" y2="559.70" stroke="#4a4a4a" stroke-width="0.9"/>
<line x1="538.11" y1="562.70" x2="538.11" y2="559.70" stroke="#4a4a4a" stroke-width="0.9"/>
<line x1="548.39" y1="562.70" x2="548.39" y2="559.70" stroke="#4a4a4a" stroke-width="0.9"/>
<line x1="558.66" y1="562.70" x2="558.66" y2="559.70" stroke="#4a4a4a" stroke-width="0.9"/>
<line x1="568.94" y1="562.70" x2="568.94" y2="559.70" stroke="#4a4a4a" stroke-width="0.9"/>
<line x1="579.21" y1="562.70" x2="579.21" y2="559.70" stroke="#4a4a4a" stroke-width="0.9"/>
<line x1="589.48" y1="562.70" x2="589.48" y2="559.70" stroke="#4a4a4a" stroke-width="0.9"/>
<line x1="599.76" y1="562.70" x2="599.76" y2="559.70" stroke="#4a4a4a" stroke-width="0.9"/>
<line x1="610.03" y1="562.70" x2="610.03" y2="559.70" stroke="#4a4a4a" stroke-width="0.9"/>
<line x1="620.31" y1="562.70" x2="620.31" y2="559.70" stroke="#4a4a4a" stroke-width="0.9"/>
<line x1="630.58" y1="562.70" x2="630.58" y2="559.70" stroke="#4a4a4a" stroke-width="0.9"/>
<line x1="640.85" y1="562.70" x2="640.85" y2="559.70" stroke="#4a4a4a" stroke-width="0.9"/>
<line x1="651.13" y1="562.70" x2="651.13" y2="559.70" stroke="#4a4a4a" stroke-width="0.9"/>
<line x1="661.40" y1="562.70" x2="661.40" y2="559.70" stroke="#4a4a4a" stroke-width="0.9"/>
<line x1="671.68" y1="562.70" x2="671.68" y2="559.70" stroke="#4a4a4a" stroke-width="0.9"/>
<line x1="681.95" y1="562.70" x2="681.95" y2="559.70" stroke="#4a4a4a" stroke-width="0.9"/>
<text font-family='"Liberation Serif", serif' font-weight="bold" fill="#4e4e4e" stroke="#4e4e4e" stroke-width="0.22"><tspan x="407.18" y="567.60" font-size="13.9" textLength="6.84" lengthAdjust="spacingAndGlyphs" >0</tspan><tspan x="379.80" y="519.08" font-size="13.9" textLength="34.22" lengthAdjust="spacingAndGlyphs" >10000</tspan><tspan x="380.33" y="470.56" font-size="13.9" textLength="33.68" lengthAdjust="spacingAndGlyphs" >20000</tspan><tspan x="380.39" y="422.04" font-size="13.9" textLength="33.62" lengthAdjust="spacingAndGlyphs" >30000</tspan><tspan x="380.72" y="373.52" font-size="13.9" textLength="33.29" lengthAdjust="spacingAndGlyphs" >40000</tspan><tspan x="380.36" y="325.00" font-size="13.9" textLength="33.65" lengthAdjust="spacingAndGlyphs" >50000</tspan></text>
<text font-family='"Liberation Serif", serif' font-weight="bold" fill="#4e4e4e" stroke="#4e4e4e" stroke-width="0.22"><tspan x="417.47" y="583.00" font-size="13.9" textLength="15.68" lengthAdjust="spacingAndGlyphs" >0.7</tspan><tspan x="468.84" y="583.00" font-size="13.9" textLength="15.80" lengthAdjust="spacingAndGlyphs" >0.8</tspan><tspan x="520.21" y="583.00" font-size="13.9" textLength="15.84" lengthAdjust="spacingAndGlyphs" >0.9</tspan><tspan x="576.64" y="583.00" font-size="13.9" textLength="5.43" lengthAdjust="spacingAndGlyphs" >1</tspan><tspan x="622.36" y="583.00" font-size="13.9" textLength="16.66" lengthAdjust="spacingAndGlyphs" >1.1</tspan><tspan x="673.74" y="583.00" font-size="13.9" textLength="16.53" lengthAdjust="spacingAndGlyphs" >1.2</tspan></text>
<text font-family='"Liberation Serif", serif' font-weight="bold" fill="#383838" stroke="#383838" stroke-width="0.15"><tspan x="431.84" y="346.80" font-size="23.8" textLength="34.28" lengthAdjust="spacingAndGlyphs" >Cs:</tspan><tspan x="472.32" y="346.80" font-size="23.8" textLength="27.74" lengthAdjust="spacingAndGlyphs" >1.3</tspan><tspan x="501.58" y="347.03" font-family='"IPAGothic", "Noto Sans CJK JP", sans-serif' font-weight="normal" stroke="none" fill="#454545" font-size="22.61">×</tspan><tspan x="524.07" y="346.80" font-size="23.8" textLength="22.91" lengthAdjust="spacingAndGlyphs" >10</tspan><tspan x="547.78" y="340.20" font-size="14.6" textLength="15.20" lengthAdjust="spacingAndGlyphs" >14</tspan><tspan x="566.92" y="346.80" font-size="23.8" textLength="29.28" lengthAdjust="spacingAndGlyphs" >cm</tspan><tspan x="597.44" y="340.20" font-size="14.6" textLength="12.79" lengthAdjust="spacingAndGlyphs" >-3</tspan></text>
<text x="515.50" y="544.00" font-family='"Liberation Serif", serif' font-size="18" font-weight="bold" fill="#333" stroke="#333" stroke-width="0.3" text-anchor="start" ><tspan x="512.16" y="544.89" font-family='"IPAGothic", "Noto Sans CJK JP", sans-serif' font-weight="normal" stroke="none" fill="#454545" font-size="16.70">×</tspan><tspan x="529.10" y="544.00">10</tspan></text>
<text transform="translate(368.70 0) rotate(-90)" font-family='"Liberation Serif", serif' font-size="23.2" font-weight="bold" fill="#1c1c1c" stroke="#1c1c1c" stroke-width="0.15"><tspan x="-550.27" y="0" textLength="27.37" lengthAdjust="spacingAndGlyphs">PL</tspan><tspan x="-519.38" y="0" textLength="80.09" lengthAdjust="spacingAndGlyphs">intensity</tspan><tspan x="-436.06" y="0" textLength="45.63" lengthAdjust="spacingAndGlyphs">(arb.</tspan><tspan x="-384.53" y="0" textLength="52.98" lengthAdjust="spacingAndGlyphs">units)</tspan></text>
<text font-family='"Liberation Serif", serif' font-size="17.0" font-weight="bold" fill="#333" stroke="#333" stroke-width="0.1"><tspan x="480.61" y="605.10" textLength="52.35" lengthAdjust="spacingAndGlyphs">Photon</tspan><tspan x="539.10" y="605.10" textLength="51.08" lengthAdjust="spacingAndGlyphs">energy</tspan><tspan x="594.70" y="605.10" textLength="33.30" lengthAdjust="spacingAndGlyphs">(eV)</tspan></text>
<path d="M445.91 552.94 L447.47 549.03 L449.82 546.68 L450.92 545.12 L451.39 540.42 L452.17 549.03 L453.73 551.69 L456.86 554.51 L459.21 551.38 L461.56 546.68 L463.12 549.81 L465.00 555.29 L467.82 556.38 L469.07 551.38 L469.85 546.68 L470.32 551.38 L470.95 516.95 L471.42 482.83 L471.89 516.95 L472.51 548.25 L473.45 559.98 L475.64 560.45" fill="none" stroke="#333" stroke-width="1.15" stroke-linejoin="round" stroke-linecap="butt" />
<path d="M475.64 561.23 L476.24 560.94 L476.84 561.50 L477.44 561.44 L478.04 561.18 L478.64 560.59 L479.24 560.44 L479.84 561.37 L480.44 561.24 L481.04 561.05 L481.64 560.73 L482.24 560.63 L482.84 561.12 L483.44 560.98 L484.04 561.01 L484.64 561.06 L485.24 561.20 L485.84 560.53 L486.44 560.60 L487.04 561.48 L487.64 561.40 L488.24 561.35 L488.84 560.35 L489.44 560.37 L490.04 560.63 L490.64 560.81 L491.24 561.05 L491.84 560.42 L492.44 560.95 L493.04 560.39 L493.64 560.40 L494.24 561.11 L494.84 560.96 L495.44 561.06 L496.04 560.75 L496.64 560.87 L497.24 560.55 L497.84 560.71 L498.44 561.19 L499.04 561.31 L499.64 560.39 L500.24 560.44 L500.84 561.27 L501.44 561.05 L502.04 561.22 L502.64 560.56 L503.24 560.81 L503.84 560.61 L504.44 561.27 L505.04 560.74 L505.64 561.08 L506.24 561.49 L506.84 560.69 L507.44 560.96 L508.04 561.20 L508.64 561.40 L509.24 560.81 L509.84 560.74 L510.44 560.42 L511.04 561.35 L511.64 560.39 L512.24 560.40 L512.84 560.98 L513.44 560.88 L514.04 561.12 L514.64 560.66 L515.24 561.23 L515.84 560.39 L516.44 560.56 L517.04 561.09 L517.64 560.40 L518.24 560.66 L518.84 561.17 L519.44 561.13 L520.04 560.64 L520.64 560.47 L521.24 560.73 L521.84 561.17 L522.44 560.74 L523.04 560.44 L523.64 561.15 L524.24 560.98 L524.84 561.40 L525.44 561.43 L526.04 561.40 L526.64 560.83 L527.24 561.26 L527.84 560.67 L528.44 560.68 L529.04 560.78 L529.64 561.42 L530.24 561.37 L530.84 560.60 L531.44 560.73 L532.04 560.74 L532.64 560.74 L533.24 560.77 L533.84 560.77 L534.44 560.53 L535.04 560.98 L535.64 561.26 L536.24 560.95 L536.84 561.30 L537.44 560.98 L538.04 560.51 L538.64 561.21 L539.24 561.36 L539.84 560.64 L540.44 560.33 L541.04 560.92 L541.64 560.95 L542.24 560.98 L542.84 561.46 L543.44 561.08 L544.04 561.27 L544.64 560.38 L545.24 560.96 L545.84 561.25 L546.44 560.40 L547.04 560.40 L547.64 561.18 L548.24 561.38 L548.84 560.40 L549.44 561.06 L550.04 560.46 L550.64 561.06 L551.24 560.83 L551.84 560.24 L552.44 560.11 L553.04 560.66 L553.64 560.27 L554.24 560.47 L554.84 559.93 L555.44 559.76 L556.04 560.43 L556.64 559.98 L557.24 559.67 L557.84 559.64 L558.44 559.77 L559.04 559.66 L559.64 559.82 L560.24 559.13 L560.84 559.54 L561.44 559.26 L562.04 559.40 L562.64 559.26 L563.24 559.20 L563.84 559.19 L564.44 559.18 L565.04 558.72 L565.64 558.49 L566.24 558.63 L566.84 558.66 L567.44 558.12 L568.04 558.04 L568.64 557.62 L569.24 558.32 L569.84 558.70 L570.44 558.04 L571.04 557.87 L571.64 558.00 L572.24 558.34 L572.84 558.26 L573.44 559.15 L574.04 558.14 L574.64 558.52 L575.24 558.36" fill="none" stroke="#333" stroke-width="1.25" stroke-linejoin="round" stroke-linecap="butt" />
<path d="M475.64 562.05 L476.14 562.18 L476.64 561.58 L477.14 561.46 L477.64 561.86 L478.14 561.98 L478.64 562.31 L479.14 561.44 L479.64 561.51 L480.14 561.58 L480.64 561.62 L481.14 561.64 L481.64 562.12 L482.14 561.99 L482.64 561.62 L483.14 561.58 L483.64 561.68 L484.14 561.57 L484.64 562.16 L485.14 561.71 L485.64 561.95 L486.14 562.22 L486.64 561.88 L487.14 561.66 L487.64 562.29 L488.14 562.31 L488.64 561.74 L489.14 561.95 L489.64 562.36 L490.14 561.88 L490.64 561.62 L491.14 561.45 L491.64 562.35 L492.14 562.20 L492.64 561.78 L493.14 561.93 L493.64 561.92 L494.14 561.67 L494.64 562.39 L495.14 562.06 L495.64 561.64 L496.14 561.41 L496.64 561.87 L497.14 561.77 L497.64 562.20 L498.14 562.11 L498.64 562.01 L499.14 561.56 L499.64 561.56 L500.14 561.72 L500.64 561.66 L501.14 562.27 L501.64 561.92 L502.14 562.04 L502.64 562.39 L503.14 561.67 L503.64 561.93 L504.14 561.55 L504.64 562.17 L505.14 561.40 L505.64 562.22 L506.14 562.25 L506.64 562.22 L507.14 561.48 L507.64 561.67 L508.14 562.12 L508.64 561.50 L509.14 561.88 L509.64 561.87 L510.14 562.36 L510.64 561.99 L511.14 562.26 L511.64 561.70 L512.14 562.19 L512.64 561.82 L513.14 562.32 L513.64 561.49 L514.14 562.23 L514.64 561.61 L515.14 561.94 L515.64 561.93 L516.14 561.56 L516.64 562.23 L517.14 561.71 L517.64 561.71 L518.14 561.48 L518.64 561.71 L519.14 561.87 L519.64 562.12 L520.14 561.76 L520.64 562.09 L521.14 561.51 L521.64 561.79 L522.14 561.86 L522.64 562.37 L523.14 562.23 L523.64 562.05 L524.14 561.41 L524.64 561.78 L525.14 562.11 L525.64 561.64 L526.14 561.96 L526.64 561.86 L527.14 561.41 L527.64 562.39 L528.14 562.20 L528.64 561.61 L529.14 562.02 L529.64 561.69 L530.14 561.78 L530.64 561.94 L531.14 561.70 L531.64 561.74 L532.14 561.79 L532.64 562.07 L533.14 561.66 L533.64 561.60 L534.14 562.13 L534.64 561.73 L535.14 562.35 L535.64 561.96 L536.14 562.12 L536.64 561.73 L537.14 562.23 L537.64 561.49 L538.14 561.54 L538.64 561.49 L539.14 562.08 L539.64 562.11 L540.14 561.58 L540.64 561.80 L541.14 562.24 L541.64 561.99 L542.14 561.49 L542.64 561.63 L543.14 561.56 L543.64 561.52 L544.14 561.81 L544.64 561.47 L545.14 562.32 L545.64 561.83 L546.14 561.91 L546.64 562.05 L547.14 562.17 L547.64 562.22 L548.14 561.79 L548.64 561.73 L549.14 561.81 L549.64 561.42 L550.14 561.80 L550.64 562.10 L551.14 562.38 L551.64 562.19 L552.14 562.06 L552.64 562.01 L553.14 561.42 L553.64 561.73 L554.14 561.74 L554.64 562.05 L555.14 561.51 L555.64 561.78 L556.14 561.91 L556.64 562.19 L557.14 562.23 L557.64 562.01 L558.14 561.56 L558.64 562.17 L559.14 562.30 L559.64 561.95" fill="none" stroke="#444" stroke-width="0.8" stroke-linejoin="round" stroke-linecap="butt" />
<path d="M579.26 561.67 C580.79 561.63 586.21 561.91 588.42 561.46 C590.62 561.02 591.30 560.11 592.48 559.02 C593.67 557.94 594.59 555.90 595.54 554.95 C596.49 554.00 597.33 553.22 598.18 553.33 C599.03 553.43 599.71 554.78 600.62 555.56 C601.54 556.34 602.66 557.53 603.67 558.01 C604.69 558.48 605.54 558.14 606.73 558.41 C607.91 558.68 609.27 559.77 610.80 559.63 C612.32 559.50 614.19 558.21 615.88 557.60 C617.58 556.99 619.78 556.75 620.97 555.97 C622.16 555.19 622.43 555.29 623.00 552.92 C623.58 550.55 623.99 546.31 624.43 541.73 C624.87 537.15 625.14 533.93 625.65 525.45 C626.16 516.98 627.02 501.77 627.48 490.86 C627.94 479.96 628.15 467.64 628.40 460.00 C628.65 452.36 628.78 449.00 629.00 445.00 C629.22 441.00 629.47 438.25 629.70 436.00 C629.93 433.75 630.17 432.73 630.40 431.50 C630.63 430.27 630.98 429.08 631.10 428.60 C631.23 429.08 631.65 430.27 631.90 431.50 C632.15 432.73 632.40 433.75 632.60 436.00 C632.80 438.25 632.95 441.00 633.10 445.00 C633.25 449.00 633.32 454.05 633.50 460.00 C633.68 465.95 633.84 469.78 634.19 480.69 C634.55 491.60 635.18 514.09 635.62 525.45 C636.06 536.81 636.63 544.95 636.84 548.85 C637.11 546.04 638.19 534.78 638.47 531.96 C638.67 534.27 639.28 541.29 639.69 545.80 C640.09 550.31 640.36 556.31 640.91 559.02 C641.45 561.74 642.03 561.84 642.94 562.08 C643.86 562.31 645.32 561.19 646.40 560.45 C647.49 559.70 648.60 558.28 649.45 557.60 C650.30 556.92 650.81 556.24 651.49 556.38 C652.17 556.51 652.78 557.53 653.52 558.41 C654.27 559.29 654.95 561.06 655.96 561.67 C656.98 562.28 658.68 562.11 659.63 562.08 C660.58 562.04 660.98 561.43 661.66 561.46 C662.34 561.50 662.00 562.14 663.69 562.28 C665.39 562.41 670.48 562.28 671.83 562.28" fill="none" stroke="#505050" stroke-width="1.05" stroke-linejoin="round" stroke-linecap="butt" />
</g>
<text x="345.6" y="636.6" font-family='"Liberation Sans", sans-serif' font-size="12.6" fill="#2a2a2a">(a)</text>
</svg></body></html>
